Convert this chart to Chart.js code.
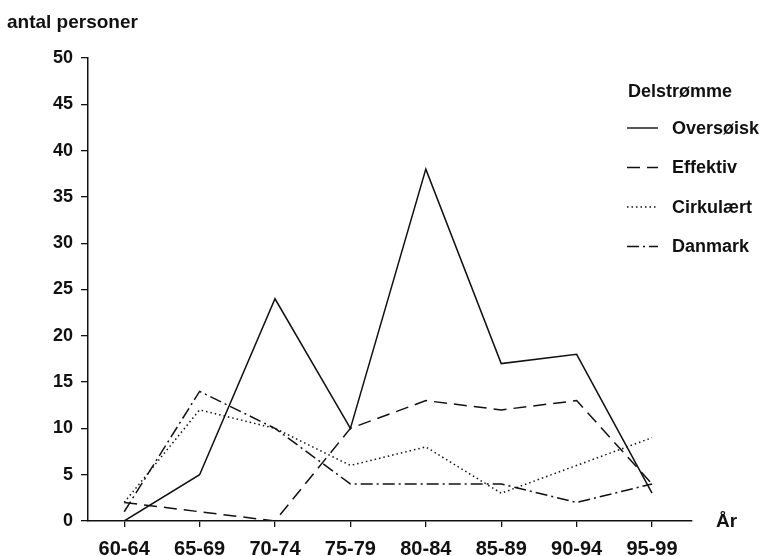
<!DOCTYPE html>
<html>
<head>
<meta charset="utf-8">
<script src="https://cdn.jsdelivr.net/npm/chart.js@4/dist/chart.umd.min.js"></script>
<style>
  html, body { margin: 0; padding: 0; background: #fff; }
  #wrap { position: relative; width: 763px; height: 556px; }
</style>
</head>
<body>
<div id="wrap"><canvas id="chart" width="763" height="556"></canvas></div>
<script>
// Periods on the x axis
const periods = ['60-64', '65-69', '70-74', '75-79', '80-84', '85-89', '90-94', '95-99'];

// Number of persons per sub-stream
const oversoisk = [0, 5, 24, 10, 38, 17, 18, 3];
const effektiv  = [2, 1, 0, 10, 13, 12, 13, 4];
const cirkulaert = [2, 12, 10, 6, 8, 3, 6, 9];
const danmark   = [1, 14, 10, 4, 4, 4, 2, 4];

const yTicks = [0, 5, 10, 15, 20, 25, 30, 35, 40, 45, 50];

const FONT = '"Liberation Sans", Arial, sans-serif';
const INK = '#111';

const toPoints = arr => arr.map((v, i) => ({ x: i, y: v }));

const series = [
  { label: 'Oversøisk', data: oversoisk, dash: [] },
  { label: 'Effektiv', data: effektiv, dash: [13, 7] },
  { label: 'Cirkulært', data: cirkulaert, dash: [1.5, 3] },
  { label: 'Danmark', data: danmark, dash: [12, 4, 2, 4] },
];

// Legend, title and axis caption drawn on top of the chart
const annotations = {
  id: 'annotations',
  afterDraw(chart) {
    const ctx = chart.ctx;
    ctx.save();
    ctx.fillStyle = INK;
    ctx.textBaseline = 'alphabetic';
    ctx.font = 'bold 19px ' + FONT;
    ctx.fillText('antal personer', 7, 28);

    ctx.textBaseline = 'middle';
    ctx.font = 'bold 19px ' + FONT;
    ctx.fillText('År', 716, 522);

    ctx.font = 'bold 18px ' + FONT;
    ctx.fillText('Delstrømme', 628, 92);
    series.forEach((s, i) => {
      const y = 128 + i * 39.5;
      ctx.beginPath();
      ctx.strokeStyle = INK;
      ctx.lineWidth = 1.4;
      ctx.setLineDash(s.dash);
      ctx.moveTo(627, y);
      ctx.lineTo(658, y);
      ctx.stroke();
      ctx.setLineDash([]);
      ctx.fillText(s.label, 672, y + 1);
    });
    ctx.restore();
  }
};

new Chart(document.getElementById('chart'), {
  type: 'line',
  data: {
    datasets: series.map(s => ({
      label: s.label,
      data: toPoints(s.data),
      borderColor: INK,
      borderWidth: 1.5,
      borderDash: s.dash,
      pointRadius: 0,
      tension: 0,
      fill: false,
    })),
  },
  options: {
    responsive: false,
    animation: false,
    layout: { padding: { left: 0, top: 58, right: 71, bottom: 0 } },
    plugins: { legend: { display: false }, tooltip: { enabled: false } },
    scales: {
      x: {
        type: 'linear',
        min: -0.48,
        max: 7.53,
        afterBuildTicks: scale => { scale.ticks = periods.map((p, i) => ({ value: i })); },
        afterFit: scale => { scale.height = 35; },
        border: { color: INK, width: 1.5 },
        grid: { drawOnChartArea: false, drawTicks: true, tickLength: 6, color: INK, lineWidth: 1.3 },
        ticks: {
          callback: v => periods[v],
          color: INK,
          padding: 10,
          maxRotation: 0,
          autoSkip: false,
          font: { family: FONT, size: 20, weight: 'bold' },
        },
      },
      y: {
        min: 0,
        max: 50,
        afterBuildTicks: scale => { scale.ticks = yTicks.map(v => ({ value: v })); },
        afterFit: scale => { scale.width = 88; },
        border: { color: INK, width: 1.5 },
        grid: { drawOnChartArea: false, drawTicks: true, tickLength: 7, color: INK, lineWidth: 1.3 },
        ticks: {
          color: INK,
          padding: 8,
          font: { family: FONT, size: 18, weight: 'bold' },
        },
      },
    },
  },
  plugins: [annotations],
});
</script>
</body>
</html>
